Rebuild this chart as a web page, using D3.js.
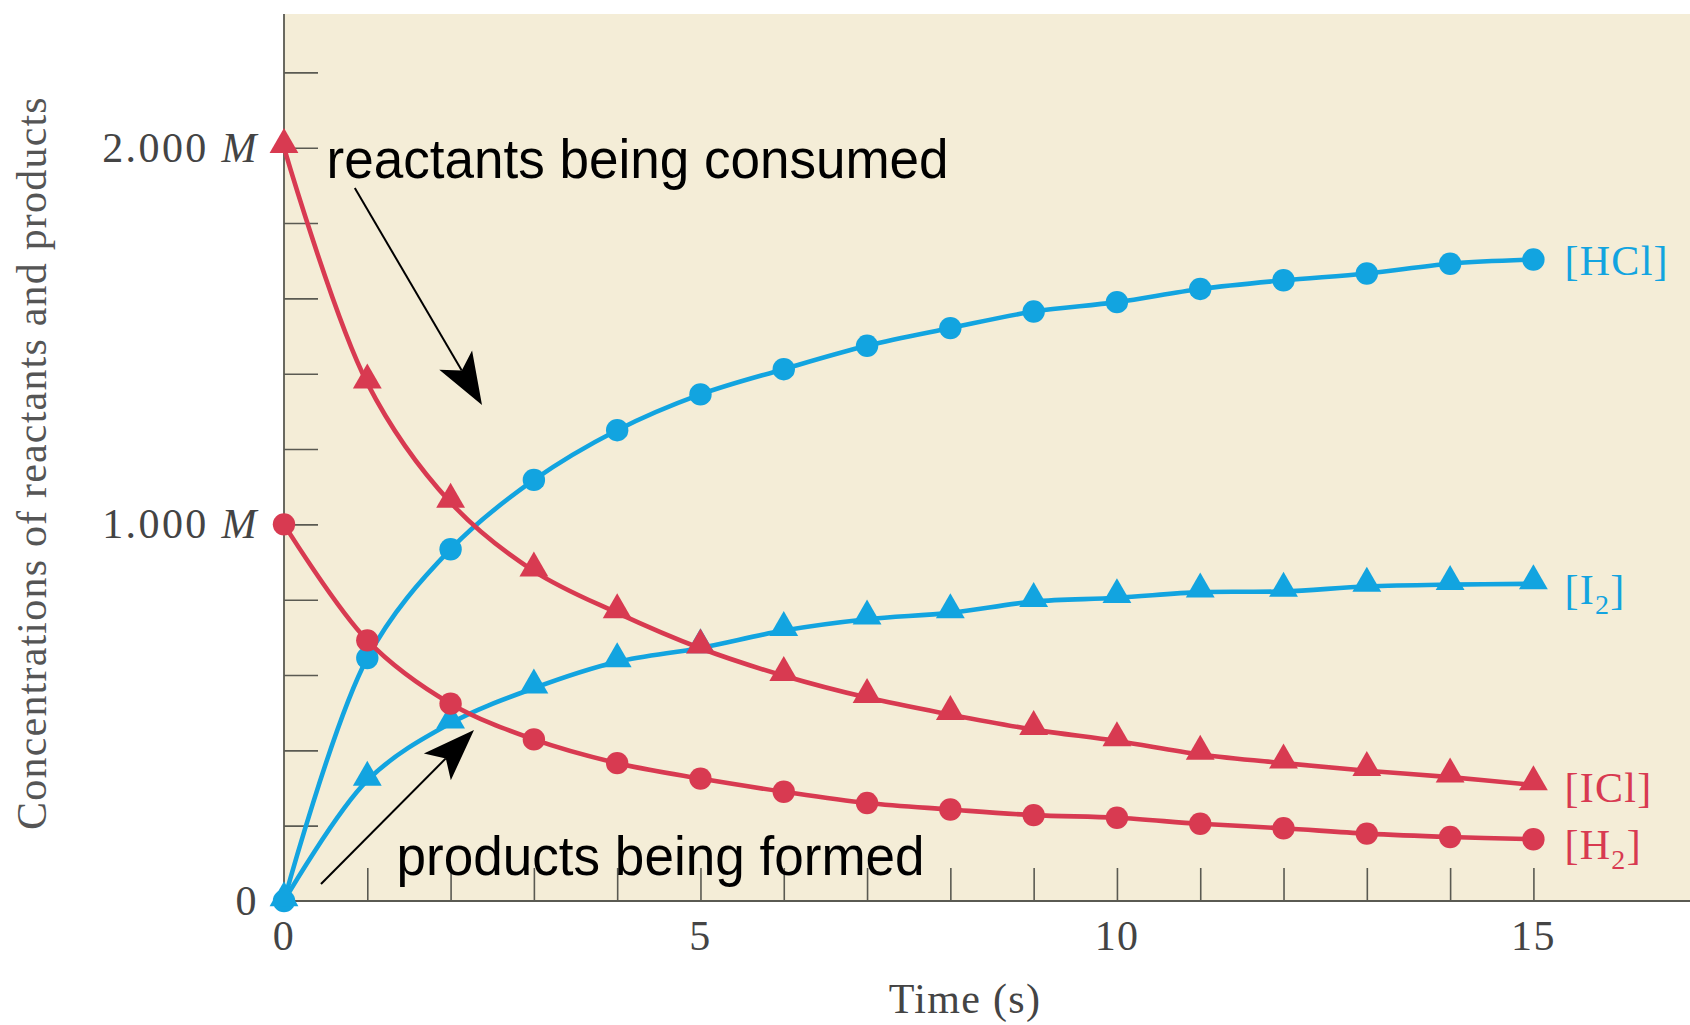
<!DOCTYPE html>
<html><head><meta charset="utf-8">
<script src="https://cdn.jsdelivr.net/npm/d3@7"></script>
<style>body{margin:0;background:#fff}svg{display:block}</style>
</head><body><svg id="c" width="1690" height="1025"></svg>
<script>
// ---- data ----
const times = [0,1,2,3,4,5,6,7,8,9,10,11,12,13,14,15];
const hcl = [0,0.645,0.934,1.118,1.25,1.345,1.412,1.474,1.521,1.565,1.59,1.625,1.648,1.666,1.692,1.703];
const i2  = [0,0.32,0.472,0.565,0.635,0.672,0.718,0.748,0.765,0.795,0.805,0.82,0.822,0.835,0.84,0.842];
const icl = [2.0,1.375,1.058,0.876,0.765,0.671,0.598,0.54,0.495,0.455,0.425,0.389,0.366,0.346,0.329,0.308];
const h2  = [1.0,0.692,0.524,0.429,0.366,0.325,0.29,0.26,0.243,0.228,0.221,0.205,0.193,0.179,0.170,0.164];
const seriesNames = ["HCl","I2","ICl","H2"];
const yTickValues = [0.2,0.4,0.6,0.8,1.0,1.2,1.4,1.6,1.8,2.0,2.2];
const yLabelValues = [0,1,2];
const yLabelTexts = ["0","1.000","2.000"];
const xTickValues = [1,2,3,4,5,6,7,8,9,10,11,12,13,14,15];
const xLabelValues = [0,5,10,15];
const xTitle = "Time (s)";
const yTitle = "Concentrations of reactants and products";
const annotations = [
  {text:"reactants being consumed", x:0.511, y:1.92, from:[0.85,1.893], to:[2.377,1.317]},
  {text:"products being formed", x:1.352, y:0.069, from:[0.444,0.045], to:[2.281,0.454]}
];

// ---- setup ----
const BLUE = "#12A4E0", RED = "#D83A51";
const svg = d3.select("#c");
const x = d3.scaleLinear().domain([0,16.88]).range([284,1690]);
const y = d3.scaleLinear().domain([0,2.355]).range([901,14]);
const serif = "'Liberation Serif','Times New Roman',serif";

svg.append("rect").attr("x",x(0)).attr("y",y(2.355)).attr("width",x(16.88)-x(0)).attr("height",y(0)-y(2.355)).attr("fill","#F4EDD7");

// inner ticks
svg.append("g").attr("transform",`translate(${x(0)},0)`)
  .call(d3.axisRight(y).tickValues(yTickValues).tickSize(34).tickFormat(""))
  .call(g=>{g.select(".domain").remove();g.selectAll("line").attr("stroke","#5a5a52").attr("stroke-width",1.6);});
svg.append("g").attr("transform",`translate(0,${y(0)})`)
  .call(d3.axisTop(x).tickValues(xTickValues).tickSize(33).tickFormat(""))
  .call(g=>{g.select(".domain").remove();g.selectAll("line").attr("stroke","#5a5a52").attr("stroke-width",1.6);});
// axis lines
svg.append("line").attr("x1",x(0)).attr("x2",x(0)).attr("y1",y(2.355)).attr("y2",y(0)).attr("stroke","#5a5a52").attr("stroke-width",1.8);
svg.append("line").attr("x1",x(0)).attr("x2",x(16.88)).attr("y1",y(0)).attr("y2",y(0)).attr("stroke","#5a5a52").attr("stroke-width",1.8);

// y labels
const yl = svg.append("g").attr("font-family",serif).attr("font-size",42).attr("fill","#444").attr("letter-spacing","2.4px");
yLabelValues.forEach((v,i)=>{
  const t = yl.append("text").attr("x",259).attr("y",y(v)+14).attr("text-anchor","end");
  t.append("tspan").text(yLabelTexts[i]);
  if (v!==0) t.append("tspan").attr("font-style","italic").text(" M");
});
// x labels
const xl = svg.append("g").attr("font-family",serif).attr("font-size",42).attr("fill","#444").attr("letter-spacing","1.3px");
xLabelValues.forEach(v=>{
  xl.append("text").attr("x",x(v)).attr("y",950).attr("text-anchor","middle").text(String(v));
});
svg.append("text").attr("x",965).attr("y",1013).attr("text-anchor","middle").attr("font-family",serif)
  .attr("font-size",42).attr("letter-spacing","1.3px").attr("fill","#444").text(xTitle);
svg.append("text").attr("transform",`translate(46,463) rotate(-90)`).attr("text-anchor","middle").attr("font-family",serif)
  .attr("font-size",42).attr("letter-spacing","1.2px").attr("fill","#555").text(yTitle);

// series
const series = [
  {name:"HCl", vals:hcl, color:BLUE, shape:"circle", label:[{t:"[HCl]"}], dy:15},
  {name:"I2",  vals:i2,  color:BLUE, shape:"triangle", label:[{t:"[I"},{t:"2",sub:true},{t:"]"}], dy:20},
  {name:"ICl", vals:icl, color:RED,  shape:"triangle", label:[{t:"[ICl]"}], dy:17},
  {name:"H2",  vals:h2,  color:RED,  shape:"circle", label:[{t:"[H"},{t:"2",sub:true},{t:"]"}], dy:20}
];
const line = d3.line().x((d,i)=>x(times[i])).y(d=>y(d)).curve(d3.curveCatmullRom.alpha(0.5));
const tri = d3.symbol().type(d3.symbolTriangle).size(360);
series.forEach(s=>{
  const g = svg.append("g");
  g.append("path").attr("d",line(s.vals)).attr("fill","none").attr("stroke",s.color).attr("stroke-width",4.6);
  if (s.shape==="circle") {
    g.selectAll("circle").data(s.vals).join("circle").attr("cx",(d,i)=>x(times[i])).attr("cy",d=>y(d)).attr("r",11.2).attr("fill",s.color);
  } else {
    g.selectAll("path.m").data(s.vals).join("path").attr("class","m").attr("d",tri)
      .attr("transform",(d,i)=>`translate(${x(times[i])},${y(d)-3})`).attr("fill",s.color);
  }
  const last = s.vals[s.vals.length-1];
  const t = g.append("text").attr("x",x(15)+31).attr("y",y(last)+s.dy).attr("font-family",serif)
    .attr("font-size",42).attr("letter-spacing","1.3px").attr("fill",s.color);
  s.label.forEach(p=>{
    const ts = t.append("tspan").text(p.t);
    if (p.sub) ts.attr("font-size",28).attr("dy",10);
    else if (t.selectAll("tspan").size()>1) ts.attr("dy",-10);
  });
});

// annotations
annotations.forEach(a=>{
  svg.append("text").attr("x",x(a.x)).attr("y",y(a.y)).attr("font-family","'Liberation Sans',Arial,sans-serif")
    .attr("font-size",56).attr("fill","#000").attr("textLength", a.text.length>22?622:528).attr("lengthAdjust","spacingAndGlyphs").text(a.text);
  const x1=x(a.from[0]), y1=y(a.from[1]), x2=x(a.to[0]), y2=y(a.to[1]);
  const ang = Math.atan2(y2-y1,x2-x1), L=52, W=19, N=40;
  const bx = x2 - L*Math.cos(ang), by = y2 - L*Math.sin(ang);
  const nx = x2 - N*Math.cos(ang), ny = y2 - N*Math.sin(ang);
  svg.append("line").attr("x1",x1).attr("y1",y1).attr("x2",nx).attr("y2",ny).attr("stroke","#000").attr("stroke-width",2);
  const px = -Math.sin(ang), py = Math.cos(ang);
  svg.append("path").attr("d",`M${x2},${y2}L${bx+W*px},${by+W*py}L${nx},${ny}L${bx-W*px},${by-W*py}Z`).attr("fill","#000");
});
</script></body></html>
